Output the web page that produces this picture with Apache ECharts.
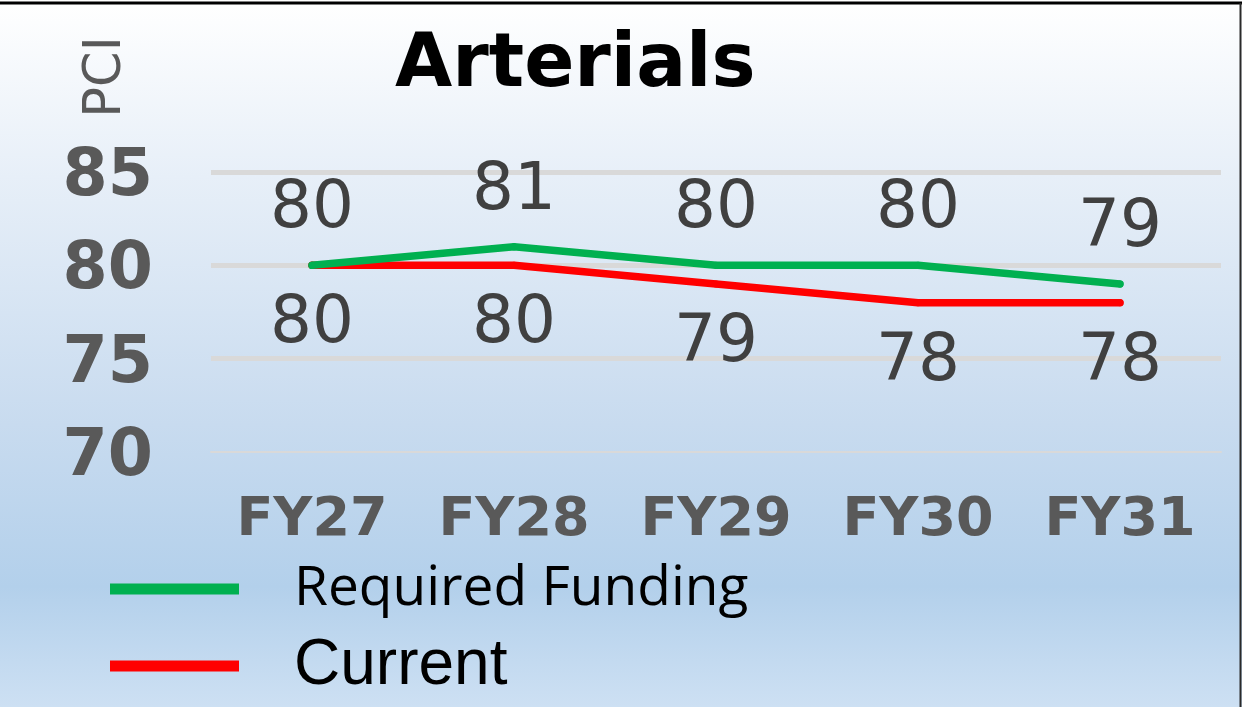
<!DOCTYPE html>
<html><head><meta charset="utf-8">
<script src="https://cdn.jsdelivr.net/npm/echarts@6/dist/echarts.min.js"></script>
<style>html,body{margin:0;padding:0;}#c{width:1242px;height:707px;}</style>
</head><body><div id="c"></div>
<script>
const categories = ['FY27','FY28','FY29','FY30','FY31'];
const requiredFunding = [80, 81, 80, 80, 79];
const current = [80, 80, 79, 78, 78];
const yTicks = {min: 70, max: 85, interval: 5};
const titleText = 'Arterials';
const yName = 'PCI';
const seriesNames = ['Required Funding', 'Current'];

const chart = echarts.init(document.getElementById('c'), null, {renderer: 'canvas'});
const labelFont = {fontFamily: 'DejaVu Sans', fontSize: 66, color: '#404040'};
const legendBase = {
  orient: 'vertical', left: 105, itemGap: 0, padding: 5,
  itemWidth: 129, itemHeight: 11, icon: 'rect'
};
chart.setOption({
  animation: false,
  backgroundColor: new echarts.graphic.LinearGradient(0, 0, 0, 1, [
    {offset: 0, color: '#ffffff'},
    {offset: 0.25, color: '#e7eff8'},
    {offset: 0.6, color: '#c8dbef'},
    {offset: 0.83, color: '#b3d0eb'},
    {offset: 1, color: '#cde0f3'}
  ]),
  title: {
    text: titleText, left: 390, top: 25,
    textStyle: {fontFamily: 'DejaVu Sans', fontWeight: 'bold', fontSize: 74, lineHeight: 74, color: '#000'}
  },
  grid: {left: 211, right: 21, top: 172, bottom: 255, containLabel: false},
  legend: [
    Object.assign({top: 551, data: [seriesNames[0]],
      textStyle: {fontFamily: 'Open Sans', fontSize: 55, lineHeight: 66, color: '#000', padding: [0, 0, 0, 50]}}, legendBase),
    Object.assign({top: 628, data: [seriesNames[1]],
      textStyle: {fontFamily: 'Liberation Sans', fontSize: 64, lineHeight: 66, color: '#000', padding: [0, 0, 0, 50]}}, legendBase)
  ],
  xAxis: {
    type: 'category', data: categories, boundaryGap: true,
    axisLine: {show: true, lineStyle: {color: '#d9d9d9', width: 2}},
    axisTick: {show: false},
    axisLabel: {margin: 42, fontFamily: 'DejaVu Sans', fontWeight: 'bold', fontSize: 54, lineHeight: 54, color: '#595959'}
  },
  yAxis: {
    type: 'value', min: yTicks.min, max: yTicks.max, interval: yTicks.interval,
    axisLine: {show: false}, axisTick: {show: false},
    splitLine: {show: true, showMinLine: false, lineStyle: {color: '#d9d9d9', width: 5}},
    axisLabel: {margin: 58, verticalAlign: 'top', lineHeight: 12, fontFamily: 'DejaVu Sans', fontWeight: 'bold', fontSize: 65, color: '#595959'}
  },
  graphic: [
    {type: 'text', x: 107, y: 77, rotation: Math.PI / 2,
     style: {text: yName, fontFamily: 'DejaVu Sans', fontSize: 51, fill: '#595959', textAlign: 'center', textVerticalAlign: 'middle'}},
    {type: 'line', shape: {x1: 0, y1: 3, x2: 1242, y2: 3}, style: {stroke: '#000', lineWidth: 3}},
    {type: 'line', shape: {x1: 1240.5, y1: 3, x2: 1240.5, y2: 707}, style: {stroke: '#2a2a2a', lineWidth: 2}}
  ],
  series: [
    {
      name: seriesNames[0], type: 'line', data: requiredFunding, z: 3,
      symbol: 'circle', symbolSize: 7, showSymbol: true,
      itemStyle: {color: '#00b050'},
      lineStyle: {color: '#00b050', width: 7.5, cap: 'round', join: 'round'},
      label: Object.assign({show: true, position: 'inside', offset: [0, -55]}, labelFont)
    },
    {
      name: seriesNames[1], type: 'line', data: current, z: 2,
      symbol: 'circle', symbolSize: 7, showSymbol: true,
      itemStyle: {color: '#ff0000'},
      lineStyle: {color: '#ff0000', width: 7.5, cap: 'round', join: 'round'},
      label: Object.assign({show: true, position: 'inside', offset: [0, 60]}, labelFont)
    }
  ]
});
</script></body></html>
